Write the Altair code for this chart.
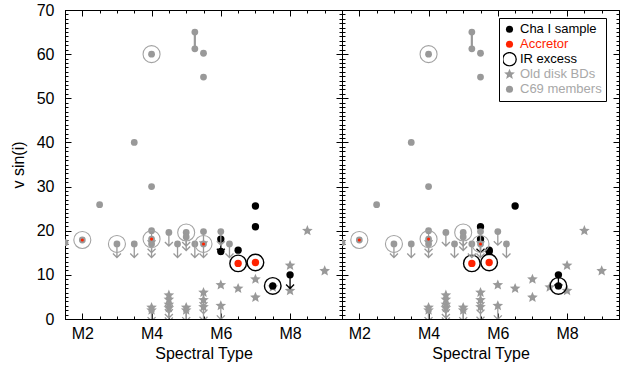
import math
import altair as alt
import pandas as pd

# ---------------- data ----------------
# C69 members (grey), identical in both panels
c69_spt = [1.5, 2.0, 2.5, 3.0, 3.5, 3.5, 4.0, 4.0, 4.0, 4.0, 4.0, 4.5, 4.75, 5.0, 5.0,
           5.25, 5.25, 5.25, 5.5, 5.5, 5.5, 5.5, 6.0, 6.25]
c69_vsini = [17.3, 17.9, 25.9, 17.0, 17.0, 40.0, 30.0, 60.0, 20.0, 18.1, 17.0, 19.6, 17.0, 19.6, 18.6,
             17.0, 65.0, 61.2, 60.2, 54.8, 19.8, 17.0, 19.8, 17.0]
c69_upper = [False, False, False, True, True, False, False, False, True, True, True, True, True, True, True,
             True, False, False, False, False, True, True, True, True]
c69_irx = [False, True, False, True, False, False, False, True, False, True, False, False, False, True, False,
           False, False, False, False, False, False, True, False, False]
c69_acc = [False, True, False, False, False, False, False, False, False, True, False, False, False, False, False,
           False, False, False, False, False, False, True, False, False]
# two measurements of one C69 star joined by a line
rng_spt = [5.25]
rng_lo = [61.2]
rng_hi = [65.0]

# Old disk brown dwarfs (grey stars)
old_spt = [6.0, 6.5, 7.0, 7.0, 7.5, 8.0, 8.0, 8.5, 9.0,
           4.0, 4.0, 4.5, 4.5, 4.5, 4.5, 5.0, 5.0, 5.5, 5.5, 5.5, 6.0]
old_vsini = [7.7, 6.9, 9.0, 4.9, 7.2, 12.1, 6.4, 20.0, 10.9,
             2.6, 2.0, 5.4, 4.4, 3.3, 2.5, 2.6, 2.0, 6.0, 4.3, 2.7, 3.0]
old_upper = [False] * 9 + [True] * 12

# Cha I sample (black); spectral types differ between the two panels
cha_vsini = [18.1, 15.3, 15.6, 12.6, 25.6, 20.9, 12.8, 7.5, 10.0]
cha_spt_left = [6.0, 6.0, 6.5, 6.5, 7.0, 7.0, 7.0, 7.5, 8.0]
cha_spt_right = [5.5, 5.75, 5.75, 5.25, 6.5, 5.5, 5.75, 7.75, 7.75]
cha_upper = [True, False, False, False, False, False, False, False, True]
cha_acc = [False, False, False, True, False, False, True, False, False]
cha_irx = [False, False, False, True, False, False, True, True, False]

legend_labels = ["Cha I sample", "Accretor", "IR excess", "Old disk BDs", "C69 members"]

# axis ticks / labels
x_major = [2, 4, 6, 8]
x_minor = [1.5, 2, 2.5, 3, 3.5, 4, 4.5, 5, 5.5, 6, 6.5, 7, 7.5, 8, 8.5, 9, 9.5]
y_major = [0, 10, 20, 30, 40, 50, 60, 70]
y_minor = list(range(0, 71))

# ---------------- styles ----------------
FONT = "Liberation Sans"
GRAY = "#999999"
CGRAY = "#a3a3a3"
LGRAY = "#a8a8a8"
RED = "#ff2200"
W, H = 277, 309


def star_path(R, r):
    pts = []
    for k in range(10):
        a = math.radians(-90 + 36 * k)
        rad = R if k % 2 == 0 else r
        pts.append(f"{rad * math.cos(a):.3f},{rad * math.sin(a):.3f}")
    return "M" + "L".join(pts) + "Z"


STAR = star_path(1.0, 0.45)
LSTAR = star_path(1.6, 0.72)
ARROW = "M0,0L0,3.4M-1,2.4L0,3.4L1,2.4"
BIGCIRC = "M1.9,0A1.9,1.9,0,1,1,-1.9,0A1.9,1.9,0,1,1,1.9,0Z"

XS = alt.Scale(domain=[1.5, 9.5], nice=False, zero=False)
YS = alt.Scale(domain=[0, 70], nice=False, zero=False)

c69 = pd.DataFrame({"spt": c69_spt, "vsini": c69_vsini, "upper": c69_upper,
                    "irx": c69_irx, "acc": c69_acc})
old = pd.DataFrame({"spt": old_spt, "vsini": old_vsini, "upper": old_upper})
rng = pd.DataFrame({"spt": rng_spt, "lo": rng_lo, "hi": rng_hi})
axis_df = pd.DataFrame({"spt": [5.5], "vsini": [35.0]})
leg_df = pd.DataFrame({"cat": legend_labels})


def cha_df(spt):
    return pd.DataFrame({"spt": spt, "vsini": cha_vsini, "upper": cha_upper,
                         "irx": cha_irx, "acc": cha_acc})


def xy(ch):
    return ch.encode(x=alt.X("spt:Q", scale=XS, axis=None),
                     y=alt.Y("vsini:Q", scale=YS, axis=None))


def tick_axis(orient, values, size):
    return alt.Axis(orient=orient, values=values, labels=False, domain=False, grid=False,
                    ticks=True, tickSize=size, offset=-size, tickColor="black", tickWidth=1,
                    title=None, minExtent=0)


XLAB = alt.Axis(orient="bottom", values=x_major, labelExpr="'M' + datum.value", ticks=False,
                domain=False, grid=False, labelFont=FONT, labelFontSize=16, labelColor="black",
                labelPadding=6, labelFlush=False, labelOverlap=False, title="Spectral Type",
                titleFont=FONT, titleFontSize=16, titleFontWeight="normal", titleColor="black",
                titlePadding=4, minExtent=0)
YLAB = alt.Axis(orient="left", values=y_major, ticks=False, domain=False, grid=False,
                labelFont=FONT, labelFontSize=16, labelColor="black", labelPadding=11,
                labelFlush=False, labelOverlap=False, title="v sin(i)", titleFont=FONT,
                titleFontSize=16, titleFontWeight="normal", titleColor="black",
                titlePadding=10, minExtent=0)


def axis_layer(ax, ay):
    return alt.Chart(axis_df).mark_point(opacity=0).encode(
        x=alt.X("spt:Q", scale=XS, axis=ax), y=alt.Y("vsini:Q", scale=YS, axis=ay))


LABEL_COLOR = ("datum.value == 'Accretor' ? '%s' : (datum.value == 'Old disk BDs' || "
               "datum.value == 'C69 members') ? '%s' : 'black'" % (RED, LGRAY))
LEG = alt.Legend(title=None, orient="none", legendX=157, legendY=8, padding=4,
                 strokeColor="black", fillColor="white", cornerRadius=0,
                 labelFont=FONT, labelFontSize=13, labelColor={"expr": LABEL_COLOR},
                 labelOffset=4, rowPadding=0, clipHeight=14.6, symbolSize=50,
                 symbolStrokeWidth=1.3,
                 labelExpr="datum.label + '" + "\u00a0" * 10 + "\u2002\u00a0'")


def legend_layer():
    return alt.Chart(leg_df).transform_filter("false").mark_point(
        filled=True, size=50, opacity=1, strokeWidth=1.3).encode(
        shape=alt.Shape("cat:N", scale=alt.Scale(domain=legend_labels,
                        range=["circle", "circle", BIGCIRC, LSTAR, "circle"]), legend=LEG),
        fill=alt.Fill("cat:N", scale=alt.Scale(domain=legend_labels,
                      range=["black", RED, "transparent", GRAY, GRAY]), legend=LEG),
        stroke=alt.Stroke("cat:N", scale=alt.Scale(domain=legend_labels,
                          range=["transparent", "transparent", "black", "transparent",
                                 "transparent"]), legend=LEG),
    )


def panel(cha_spt, left):
    cha = cha_df(cha_spt)
    layers = [
        axis_layer(XLAB, YLAB if left else None),
        axis_layer(tick_axis("bottom", x_major, 6), tick_axis("left", y_major, 6)),
        axis_layer(tick_axis("bottom", x_minor, 3), tick_axis("left", y_minor, 3)),
        axis_layer(tick_axis("top", x_major, 6), tick_axis("right", y_major, 6)),
        axis_layer(tick_axis("top", x_minor, 3), tick_axis("right", y_minor, 3)),
        # old disk BDs
        xy(alt.Chart(old).transform_filter("datum.upper").mark_point(
            shape=ARROW, filled=False, color=GRAY, strokeWidth=1.3, size=64, opacity=1,
            clip=True)),
        xy(alt.Chart(old).mark_point(shape=STAR, filled=True, color=GRAY, size=125,
                                     opacity=1, strokeWidth=0, clip=True)),
        # Cha I sample
        xy(alt.Chart(cha).transform_filter("datum.upper").mark_point(
            shape=ARROW, filled=False, color="black", strokeWidth=1.3, size=64, opacity=1,
            clip=True)),
        xy(alt.Chart(cha).transform_filter("!datum.acc").mark_circle(
            color="black", size=54, opacity=1, clip=True)),
        xy(alt.Chart(cha).transform_filter("datum.acc").mark_circle(
            color=RED, size=54, opacity=1, clip=True)),
        xy(alt.Chart(cha).transform_filter("datum.irx").mark_point(
            shape="circle", filled=False, color="black", size=275, strokeWidth=1.4,
            opacity=1, clip=True)),
        # C69 members
        alt.Chart(rng).mark_rule(color=GRAY, strokeWidth=2.2).encode(
            x=alt.X("spt:Q", scale=XS, axis=None), y=alt.Y("lo:Q", scale=YS, axis=None),
            y2="hi:Q"),
        xy(alt.Chart(c69).transform_filter("datum.upper").mark_point(
            shape=ARROW, filled=False, color=GRAY, strokeWidth=1.3, size=64, opacity=1,
            clip=True)),
        xy(alt.Chart(c69).mark_circle(color=GRAY, size=46, opacity=1, clip=True)),
        xy(alt.Chart(c69).transform_filter("datum.irx").mark_point(
            shape="circle", filled=False, color=CGRAY, size=290, strokeWidth=1.1, opacity=1,
            clip=True)),
        xy(alt.Chart(c69).transform_filter("datum.acc").mark_circle(
            color=RED, size=10, opacity=1, clip=True)),
    ]
    if not left:
        layers.append(legend_layer())
    return alt.layer(*layers).resolve_axis(x="independent", y="independent").properties(
        width=W, height=H)


chart = alt.hconcat(panel(cha_spt_left, True), panel(cha_spt_right, False),
                    spacing=0, bounds="flush").resolve_scale(
    shape="independent", fill="independent", stroke="independent"
).configure(
    padding={"left": 9, "top": 1, "right": 2, "bottom": 2}, font=FONT
).configure_view(stroke="black", strokeWidth=1)

chart.save("out.html", embed_options={"renderer": "svg", "actions": False})
